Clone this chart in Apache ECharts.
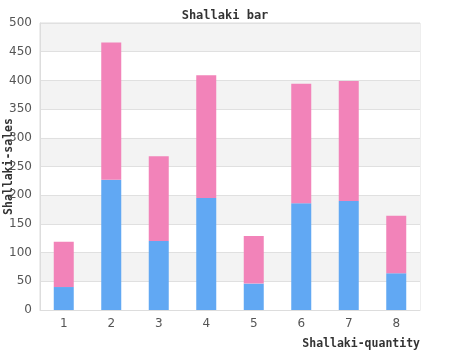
<!DOCTYPE html>
<html><head><meta charset="utf-8">
<script src="https://cdn.jsdelivr.net/npm/echarts@6/dist/echarts.min.js"></script>
<style>html,body{margin:0;padding:0;background:#fff}#c{width:450px;height:350px}</style>
</head><body><div id="c"></div>
<script>
const categories = ['1','2','3','4','5','6','7','8'];
const blueValues = [40, 227, 120, 195, 46, 186, 190, 64];
const pinkValues = [79, 239, 148, 214, 83, 208, 209, 100];
const yTicks = [0, 50, 100, 150, 200, 250, 300, 350, 400, 450, 500];

const chart = echarts.init(document.getElementById('c'));
chart.setOption({
  animation: false,
  title: {
    text: 'Shallaki bar', left: 'center', top: 5,
    textStyle: {fontFamily: 'DejaVu Sans Mono', fontWeight: 'bold', fontSize: 12, color: '#333'}
  },
  grid: {left: 40, right: 30, top: 23, bottom: 40, containLabel: false, outerBoundsMode: 'none', show: true, borderColor: '#ddd', borderWidth: 1, backgroundColor: 'transparent'},
  xAxis: {
    type: 'category', data: categories,
    name: 'Shallaki-quantity', nameLocation: 'end',
    nameGap: 0, nameMoveOverlap: false,
    nameTextStyle: {fontFamily: 'DejaVu Sans Mono', fontWeight: 'bold', fontSize: 11.5, color: '#333', align: 'right', verticalAlign: 'top', padding: [28, 0, 0, 0]},
    axisLine: {lineStyle: {color: '#ddd'}},
    axisTick: {show: false},
    axisLabel: {color: '#555', fontFamily: 'DejaVu Sans', fontSize: 12, margin: 8}
  },
  yAxis: {
    type: 'value', min: yTicks[0], max: yTicks[yTicks.length-1], interval: 50,
    name: 'Shallaki-sales', nameLocation: 'middle', nameGap: 25, nameMoveOverlap: false,
    nameTextStyle: {fontFamily: 'DejaVu Sans Mono', fontWeight: 'bold', fontSize: 11.5, color: '#333'},
    axisLine: {show: true, lineStyle: {color: '#ddd'}},
    axisTick: {show: false},
    axisLabel: {color: '#555', fontFamily: 'DejaVu Sans', fontSize: 12, margin: 8},
    splitLine: {lineStyle: {color: '#e0e0e0'}},
    splitArea: {show: true, areaStyle: {color: ['#ffffff', '#f3f3f3']}}
  },
  series: [
    {type: 'bar', stack: 's', data: blueValues, barWidth: 20, itemStyle: {color: '#61a8f3'}},
    {type: 'bar', stack: 's', data: pinkValues, barWidth: 20, itemStyle: {color: '#f283b9'}}
  ]
});
</script></body></html>
